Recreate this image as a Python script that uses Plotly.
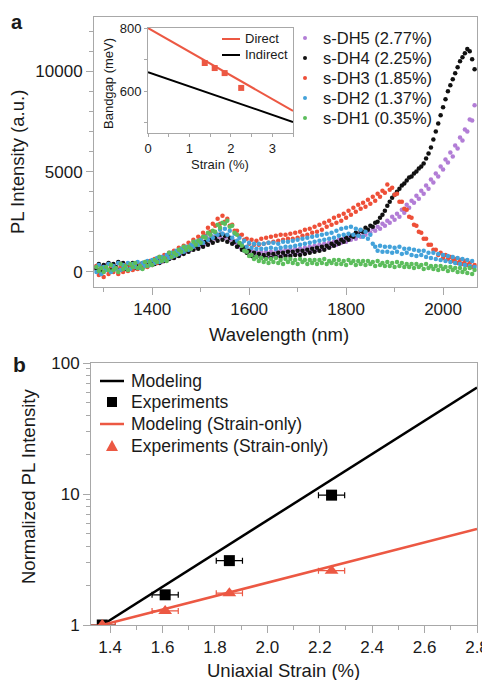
import plotly.graph_objects as go

# ---------------- Panel a: PL spectra (read every 5 nm) ----------------
wavelength = list(range(1285, 2066, 5))

dh5 = [300, 50, 250, 0, 350, 100, 300, 50, 250, 100,
       350, 150, 300, 100, 350, 150, 400, 200, 350, 200,
       450, 300, 500, 350, 600, 450, 650, 500, 750, 600,
       850, 700, 900, 800, 1000, 900, 1100, 1000, 1200, 1100,
       1300, 1200, 1400, 1300, 1500, 1400, 1650, 1550, 1750, 1650,
       1850, 1750, 1900, 1700, 1800, 1600, 1650, 1450, 1450, 1250,
       1250, 1050, 1100, 900, 1050, 850, 1000, 850, 1000, 800,
       1000, 800, 1000, 850, 1050, 850, 1050, 900, 1100, 900,
       1100, 950, 1150, 950, 1150, 1000, 1200, 1050, 1250, 1050,
       1300, 1100, 1350, 1150, 1400, 1250, 1450, 1300, 1500, 1350,
       1600, 1450, 1650, 1500, 1750, 1600, 1800, 1650, 1900, 1750,
       1950, 1850, 2050, 1950, 2150, 2050, 2250, 2150, 2400, 2300,
       2550, 2450, 2750, 2600, 2900, 2750, 3100, 2950, 3350, 3200,
       3550, 3450, 3800, 3650, 4050, 3900, 4300, 4150, 4600, 4450,
       4900, 4750, 5250, 5100, 5600, 5450, 5950, 5750, 6300, 6150,
       6700, 6550, 7100, 7000, 7600, 7550, 8300]

dh4 = [150, 400, 100, 350, 200, 450, 150, 400, 250, 500,
       200, 450, 150, 400, 250, 450, 200, 400, 250, 450,
       300, 500, 350, 550, 400, 600, 450, 700, 550, 750,
       650, 850, 700, 950, 800, 1000, 900, 1100, 1000, 1200,
       1100, 1300, 1150, 1400, 1250, 1500, 1350, 1600, 1450, 1700,
       1550, 1850, 1600, 1800, 1500, 1700, 1400, 1500, 1250, 1350,
       1100, 1200, 950, 1050, 800, 950, 750, 900, 700, 850,
       700, 900, 700, 900, 750, 950, 750, 950, 800, 1000,
       800, 1000, 850, 1050, 850, 1050, 900, 1100, 950, 1150,
       1000, 1200, 1050, 1250, 1100, 1300, 1200, 1400, 1300, 1500,
       1400, 1600, 1500, 1700, 1600, 1800, 1750, 1950, 1850, 2050,
       2000, 2200, 2100, 2300, 2250, 2450, 2500, 2700, 2850, 3050,
       3300, 3500, 3700, 3850, 4000, 4150, 4300, 4400, 4550, 4700,
       4750, 4900, 5000, 5150, 5250, 5400, 5650, 5900, 6200, 6600,
       7000, 7400, 7800, 8200, 8600, 9000, 9300, 9600, 9900, 10200,
       10500, 10700, 10900, 11100, 11000, 10600, 10100]

dh3 = [300, -150, 200, -250, 150, -100, 300, 0, 200, -100,
       250, 0, 350, 50, 300, 100, 400, 150, 350, 200,
       450, 250, 550, 350, 650, 450, 750, 550, 850, 650,
       950, 750, 1050, 900, 1200, 1000, 1300, 1150, 1450, 1300,
       1600, 1450, 1750, 1650, 1950, 1800, 2200, 2000, 2400, 2300,
       2650, 2400, 2800, 2500, 2650, 2300, 2350, 2050, 2050, 1800,
       1850, 1600, 1650, 1400, 1600, 1350, 1550, 1350, 1650, 1400,
       1700, 1450, 1750, 1500, 1800, 1550, 1850, 1600, 1850, 1650,
       1900, 1650, 1950, 1700, 2000, 1800, 2100, 1850, 2150, 1950,
       2250, 2000, 2350, 2100, 2450, 2250, 2550, 2350, 2700, 2450,
       2800, 2550, 2900, 2700, 3050, 2850, 3200, 3000, 3350, 3150,
       3450, 3250, 3600, 3400, 3750, 3550, 3900, 3750, 4050, 3950,
       4350, 4100, 4200, 3850, 3900, 3500, 3500, 3150, 3100, 2750,
       2700, 2350, 2300, 2000, 1950, 1650, 1650, 1350, 1350, 1100,
       1100, 850, 950, 700, 850, 650, 750, 550, 650, 450,
       600, 400, 550, 350, 450, 250, 350]

dh2 = [0, 350, -100, 250, 100, 400, 0, 300, 150, 450,
       100, 350, 200, 450, 150, 400, 250, 500, 200, 450,
       300, 550, 350, 600, 450, 700, 500, 750, 600, 850,
       700, 950, 800, 1050, 900, 1150, 1000, 1250, 1100, 1350,
       1250, 1500, 1350, 1600, 1450, 1750, 1600, 1850, 1700, 1950,
       1850, 2100, 1900, 2150, 1850, 2050, 1700, 1900, 1550, 1700,
       1400, 1550, 1250, 1450, 1200, 1400, 1150, 1400, 1150, 1400,
       1150, 1450, 1200, 1450, 1150, 1400, 1200, 1500, 1250, 1500,
       1250, 1550, 1300, 1600, 1350, 1650, 1400, 1700, 1450, 1750,
       1500, 1800, 1550, 1850, 1600, 1900, 1650, 1950, 1700, 2050,
       1800, 2150, 1850, 2200, 1900, 2250, 1850, 2150, 1800, 2100,
       1750, 2000, 1650, 1850, 1400, 1250, 1050, 1300, 1000, 1250,
       1000, 1250, 950, 1200, 1000, 1250, 900, 1150, 950, 1150,
       850, 1100, 800, 1050, 850, 1050, 750, 950, 700, 950,
       650, 900, 600, 850, 550, 800, 500, 750, 450, 700,
       400, 650, 350, 600, 300, 550, 250]

dh1 = [250, 50, 200, 0, 250, 100, 350, 100, 200, 0,
       400, 150, 300, 100, 400, 250, 450, 200, 300, 150,
       500, 300, 500, 350, 600, 500, 750, 550, 700, 550,
       950, 750, 950, 850, 1100, 1000, 1250, 1100, 1250, 1150,
       1500, 1350, 1550, 1450, 1750, 1700, 1950, 1850, 2050, 2000,
       2350, 2200, 2450, 2400, 2550, 2250, 2300, 1950, 1850, 1450,
       1300, 1050, 1000, 800, 850, 650, 750, 550, 700, 500,
       650, 450, 650, 500, 700, 450, 600, 400, 650, 500,
       650, 450, 600, 400, 650, 500, 600, 400, 600, 450,
       600, 400, 600, 450, 650, 400, 550, 450, 600, 400,
       600, 400, 550, 350, 600, 450, 550, 350, 550, 400,
       550, 350, 550, 400, 500, 300, 550, 350, 450, 300,
       500, 300, 450, 250, 500, 300, 450, 250, 400, 250,
       400, 200, 400, 250, 350, 150, 400, 200, 300, 150,
       300, 100, 300, 150, 250, 50, 250, 100, 200, 0,
       200, 0, 150, -50, 200, -100, 100]

spec_names = ["s-DH5 (2.77%)", "s-DH4 (2.25%)", "s-DH3 (1.85%)",
              "s-DH2 (1.37%)", "s-DH1 (0.35%)"]
spec_values = [dh5, dh4, dh3, dh2, dh1]
spec_colors = ["#b27dd6", "#111111", "#ee4f38", "#43a2da", "#5cbd5c"]

# ---------------- Inset: bandgap ----------------
inset_strain = [0, 3.5]
direct_gap = [800, 537]
indirect_gap = [660, 502]
inset_exp_strain = [1.37, 1.61, 1.85, 2.25]
inset_exp_gap = [689, 673, 657, 610]
inset_names = ["Direct", "Indirect"]

# ---------------- Panel b: normalized PL ----------------
model_strain = [1.37, 2.8]
model_total = [1.0, 65.0]
model_strain_only = [1.0, 5.4]
exp_strain = [1.37, 1.61, 1.855, 2.245]
exp_total = [1.0, 1.7, 3.1, 9.8]
exp_strain_only = [1.0, 1.28, 1.75, 2.6]
exp_err = [0.05, 0.05, 0.05, 0.05]
b_names = ["Modeling", "Experiments", "Modeling (Strain-only)", "Experiments (Strain-only)"]

RED = "#ec5843"
FONT = "Liberation Sans, Arial, Helvetica, sans-serif"
AXC = "#a8a8a8"
TXT = "#1a1a1a"

# the page body adds an 8 px margin, so the figure is drawn 8 px in and 8 px smaller
OFF = 8
W, H = 490 - OFF, 680 - OFF


def px_x(p):
    return (p - OFF) / W


def px_y(p):
    return 1 - (p - OFF) / H


fig = go.Figure()

for name, vals, col in zip(spec_names, spec_values, spec_colors):
    fig.add_trace(go.Scatter(
        x=wavelength, y=vals, mode="markers", name=name, showlegend=False,
        marker=dict(color=col, size=4.5), xaxis="x", yaxis="y"))

# inset
fig.add_trace(go.Scatter(x=inset_strain, y=direct_gap, mode="lines", name=inset_names[0],
                         showlegend=False, line=dict(color=RED, width=2), xaxis="x2", yaxis="y2"))
fig.add_trace(go.Scatter(x=inset_strain, y=indirect_gap, mode="lines", name=inset_names[1],
                         showlegend=False, line=dict(color="black", width=2), xaxis="x2", yaxis="y2"))
fig.add_trace(go.Scatter(x=inset_exp_strain, y=inset_exp_gap, mode="markers", showlegend=False,
                         marker=dict(color=RED, size=6, symbol="square"), xaxis="x2", yaxis="y2"))

# panel b
fig.add_trace(go.Scatter(x=model_strain, y=model_total, mode="lines", name=b_names[0], showlegend=False,
                         line=dict(color="black", width=2.5), xaxis="x3", yaxis="y3"))
fig.add_trace(go.Scatter(x=exp_strain, y=exp_total, mode="markers", name=b_names[1], showlegend=False,
                         marker=dict(color="black", size=11, symbol="square"),
                         error_x=dict(type="data", array=exp_err, color="black", thickness=1.2, width=3),
                         xaxis="x3", yaxis="y3"))
fig.add_trace(go.Scatter(x=model_strain, y=model_strain_only, mode="lines", name=b_names[2], showlegend=False,
                         line=dict(color=RED, width=2.5), xaxis="x3", yaxis="y3"))
fig.add_trace(go.Scatter(x=exp_strain, y=exp_strain_only, mode="markers", name=b_names[3], showlegend=False,
                         marker=dict(color=RED, size=12, symbol="triangle-up"),
                         error_x=dict(type="data", array=exp_err, color=RED, thickness=1.2, width=3),
                         xaxis="x3", yaxis="y3"))

axis_common = dict(showline=True, linecolor=AXC, linewidth=1, mirror=True, showgrid=False,
                   zeroline=False, ticks="outside", tickcolor=AXC, ticklen=7, automargin=False,
                   tickfont=dict(size=17, color=TXT))
inset_axis = {**axis_common, "ticklen": 3, "tickfont": dict(size=13, color=TXT)}

fig.update_layout(
    width=W, height=H, margin=dict(l=0, r=0, t=0, b=0, pad=0, autoexpand=False),
    paper_bgcolor="white", plot_bgcolor="white", showlegend=False,
    font=dict(family=FONT, color=TXT),
    xaxis=dict(domain=[px_x(94), px_x(477)], anchor="y", range=[1280, 2070],
               tick0=1400, dtick=200,
               minor=dict(dtick=100, tick0=1300, ticks="outside", ticklen=4, tickcolor=AXC),
               **axis_common),
    yaxis=dict(domain=[px_y(287), px_y(17)], anchor="x", range=[-750, 12700],
               tick0=0, dtick=5000, tickformat="d",
               minor=dict(dtick=1000, tick0=0, ticks="outside", ticklen=4, tickcolor=AXC),
               **axis_common),
    xaxis2=dict(domain=[px_x(148), px_x(293)], anchor="y2", range=[0, 3.5],
                tick0=0, dtick=1,
                minor=dict(dtick=0.5, ticks="outside", ticklen=3, tickcolor=AXC),
                **inset_axis),
    yaxis2=dict(domain=[px_y(133), px_y(28)], anchor="x2", range=[467, 800],
                tick0=0, dtick=200,
                minor=dict(dtick=100, ticks="outside", ticklen=3, tickcolor=AXC),
                **inset_axis),
    xaxis3=dict(domain=[px_x(91), px_x(477)], anchor="y3", range=[1.327, 2.8],
                tick0=1.4, dtick=0.2, tickformat=".1f",
                minor=dict(dtick=0.1, tick0=1.3, ticks="outside", ticklen=4, tickcolor=AXC),
                **axis_common),
    yaxis3=dict(domain=[px_y(625), px_y(363)], anchor="x3", type="log", range=[0, 2],
                tickvals=[1, 10, 100], ticktext=["1", "10", "100"],
                minor=dict(tickvals=[2, 3, 4, 5, 6, 7, 8, 9, 20, 30, 40, 50, 60, 70, 80, 90],
                           ticks="outside", ticklen=4, tickcolor=AXC),
                **axis_common),
)

annots = [
    dict(text="<b>a</b>", x=px_x(17), y=px_y(8.5), yanchor="top", font=dict(size=20)),
    dict(text="<b>b</b>", x=px_x(19), y=px_y(364), yanchor="middle", font=dict(size=21)),
    dict(text="Wavelength (nm)", x=px_x(279), y=px_y(335), yanchor="middle", font=dict(size=18.5)),
    dict(text="PL Intensity (a.u.)", x=px_x(18), y=px_y(162), yanchor="middle",
         font=dict(size=18.5), textangle=-90),
    dict(text="Bandgap (meV)", x=px_x(108), y=px_y(84), yanchor="middle",
         font=dict(size=13), textangle=-90),
    dict(text="Strain (%)", x=px_x(220), y=px_y(165), yanchor="middle", font=dict(size=13)),
    dict(text="Normalized PL Intensity", x=px_x(28), y=px_y(487), yanchor="middle",
         font=dict(size=18.5), textangle=-90),
    dict(text="Uniaxial Strain (%)", x=px_x(283), y=px_y(670), yanchor="middle", font=dict(size=18.5)),
]
for a in annots:
    fig.add_annotation(xref="paper", yref="paper", showarrow=False, xanchor="center", **a)

# ---- legends drawn as real text + symbol shapes (exact row spacing) ----
shapes = []

# panel a legend
for i, (name, col) in enumerate(zip(spec_names, spec_colors)):
    cy = 38 + 20 * i
    shapes.append(dict(type="circle", xref="paper", yref="paper",
                       x0=px_x(303), x1=px_x(307), y0=px_y(cy + 2), y1=px_y(cy - 2),
                       fillcolor=col, line=dict(width=0)))
    fig.add_annotation(xref="paper", yref="paper", showarrow=False, xanchor="left",
                       yanchor="middle", x=px_x(321), y=px_y(cy), text=name,
                       font=dict(size=16.5))

# inset legend
for i, (name, col) in enumerate(zip(inset_names, [RED, "black"])):
    cy = 39 + 16 * i
    shapes.append(dict(type="line", xref="paper", yref="paper",
                       x0=px_x(222), x1=px_x(240), y0=px_y(cy), y1=px_y(cy),
                       line=dict(color=col, width=2)))
    fig.add_annotation(xref="paper", yref="paper", showarrow=False, xanchor="left",
                       yanchor="middle", x=px_x(243), y=px_y(cy), text=name,
                       font=dict(size=13))

# panel b legend
b_rows = [381, 402, 424, 446]
b_cols = ["black", "black", RED, RED]
for i, (name, col, cy) in enumerate(zip(b_names, b_cols, b_rows)):
    if i in (0, 2):
        shapes.append(dict(type="line", xref="paper", yref="paper",
                           x0=px_x(100), x1=px_x(124), y0=px_y(cy), y1=px_y(cy),
                           line=dict(color=col, width=2.5)))
    elif i == 1:
        shapes.append(dict(type="rect", xref="paper", yref="paper",
                           x0=px_x(107), x1=px_x(117), y0=px_y(cy + 5), y1=px_y(cy - 5),
                           fillcolor=col, line=dict(width=0)))
    else:
        path = "M {:.5f},{:.5f} L {:.5f},{:.5f} L {:.5f},{:.5f} Z".format(
            px_x(106), px_y(cy + 5), px_x(118), px_y(cy + 5), px_x(112), px_y(cy - 6))
        shapes.append(dict(type="path", xref="paper", yref="paper", path=path,
                           fillcolor=col, line=dict(width=0)))
    fig.add_annotation(xref="paper", yref="paper", showarrow=False, xanchor="left",
                       yanchor="middle", x=px_x(129), y=px_y(cy), text=name,
                       font=dict(size=17.5))

fig.update_layout(shapes=shapes)

fig.write_html("out.html")
